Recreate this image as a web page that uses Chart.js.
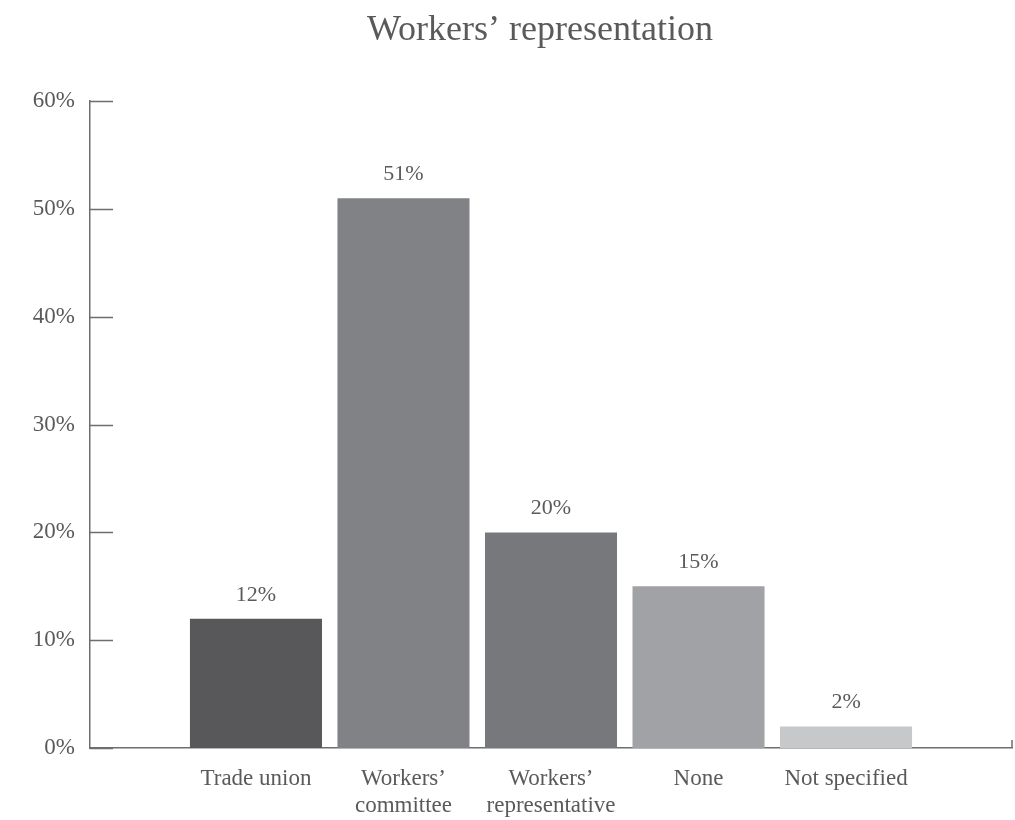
<!DOCTYPE html>
<html>
<head>
<meta charset="utf-8">
<script src="https://cdn.jsdelivr.net/npm/chart.js@4/dist/chart.umd.min.js"></script>
<style>
  body { margin: 0; background: #fff; }
  canvas { display: block; }
</style>
</head>
<body>
<canvas id="chart" width="1015" height="820"></canvas>
<script>
const categories = ['Trade union', ['Workers’', 'committee'], ['Workers’', 'representative'], 'None', 'Not specified'];
const shares = [12, 51, 20, 15, 2];
const yTicks = [0, 10, 20, 30, 40, 50, 60];

const barColors = ['#58585a', '#818285', '#77787c', '#a1a2a5', '#c7c8c9'];
const inkColor = '#5a5a5a';
const axisColor = '#6d6e70';
const serif = "'Liberation Serif', 'DejaVu Serif', serif";
const tickFont = { family: serif, size: 23 };

// y labels are mirrored (so the narrow axis box does not clip them) and pushed back
// to the left of the axis line; measure the widest one to right-align them
const measure = document.createElement('canvas').getContext('2d');
measure.font = tickFont.size + 'px ' + serif;
const widestY = Math.max(...yTicks.map(v => measure.measureText(v + '%').width));

// short tick marks drawn inward from the y axis, plus the little end cap on the x axis
const innerTicks = {
    id: 'innerTicks',
    afterDatasetsDraw(chart) {
        const ctx = chart.ctx
        const area = chart.chartArea
        const y = chart.scales.y
        ctx.save()
        ctx.strokeStyle = axisColor
        ctx.lineWidth = 1.5
        ctx.beginPath()
        y.ticks.forEach(t => {
            const py = Math.round(y.getPixelForValue(t.value)) + 0.5
            ctx.moveTo(area.left, py)
            ctx.lineTo(area.left + 23, py)
        })
        ctx.moveTo(area.right, area.bottom)
        ctx.lineTo(area.right, area.bottom - 8)
        ctx.stroke()
        ctx.restore()
    }
};

// value labels above each bar
const valueLabels = {
    id: 'valueLabels',
    afterDatasetsDraw(chart) {
        const ctx = chart.ctx
        const meta = chart.getDatasetMeta(0)
        ctx.save()
        ctx.fillStyle = inkColor
        ctx.font = "22px " + serif
        ctx.textAlign = 'center'
        ctx.textBaseline = 'alphabetic'
        meta.data.forEach((bar, i) => {
            ctx.fillText(shares[i] + '%', bar.x, bar.y - 18)
        })
        ctx.restore()
    }
};

new Chart(document.getElementById('chart'), {
    type: 'bar',
    data: {
        datasets: [{
            data: shares.map((v, i) => ({ x: i + 1, y: v })),
            backgroundColor: barColors,
            borderWidth: 0,
            categoryPercentage: 1,
            barPercentage: 0.895
        }]
    },
    options: {
        responsive: false,
        animation: false,
        layout: { padding: { left: 68, right: 3, top: 0, bottom: 0 } },
        plugins: {
            legend: { display: false },
            tooltip: { enabled: false },
            title: {
                display: true,
                text: 'Workers’ representation',
                color: inkColor,
                font: { family: serif, size: 36, weight: 'normal' },
                padding: { top: 9, bottom: 49 }
            }
        },
        scales: {
            x: {
                type: 'linear',
                offset: false,
                min: -0.125,
                max: 6.125,
                afterBuildTicks: s => { s.ticks = categories.map((c, i) => ({ value: i + 1 })) },
                afterFit: s => { s.height = 72 },
                grid: { display: false, drawTicks: false },
                border: { display: true, color: axisColor, width: 1.5 },
                ticks: {
                    color: inkColor,
                    font: tickFont,
                    padding: 17,
                    maxRotation: 0,
                    autoSkip: false,
                    callback: v => categories[v - 1]
                }
            },
            y: {
                min: 0,
                max: 60,
                afterBuildTicks: s => { s.ticks = yTicks.map(v => ({ value: v })) },
                afterFit: s => { s.width = 22 },
                grid: { display: false, drawTicks: false },
                border: { display: true, color: axisColor, width: 1.5 },
                ticks: {
                    color: inkColor,
                    font: tickFont,
                    mirror: true,
                    crossAlign: 'far',
                    padding: -15 - widestY,
                    callback: v => v + '%'
                }
            }
        }
    },
    plugins: [innerTicks, valueLabels]
});
</script>
</body>
</html>
